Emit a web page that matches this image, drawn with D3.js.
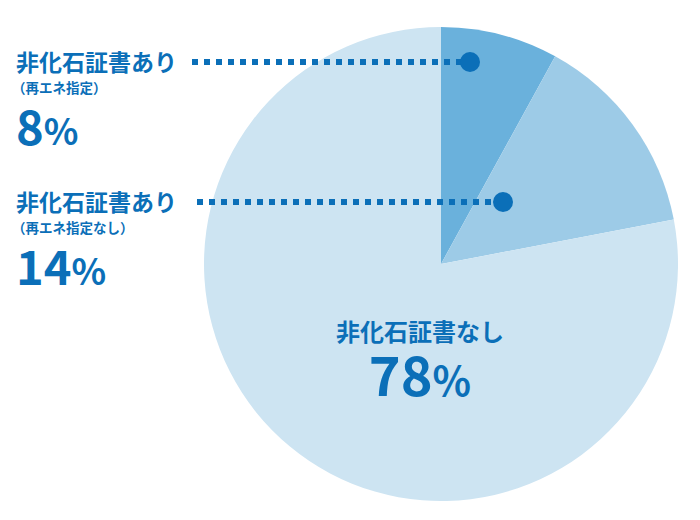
<!DOCTYPE html>
<html>
<head>
<meta charset="utf-8">
<script src="https://cdn.jsdelivr.net/npm/d3@7/dist/d3.min.js"></script>
<style>
  html, body { margin: 0; padding: 0; background: #fff; }
  text { font-family: "Noto Sans CJK JP", "Noto Sans", sans-serif; fill: #0b6fb8; font-weight: 700; }
</style>
</head>
<body>
<svg id="chart" width="700" height="520"></svg>
<script>
  var labels = ['非化石証書あり（再エネ指定）', '非化石証書あり（再エネ指定なし）', '非化石証書なし']
  var values = [8, 14, 78]
  var colors = ['#6ab1dc', '#9dcbe7', '#cde4f2']

  var svg = d3.select('#chart')
  var cx = 441, cy = 264, r = 237

  var pie = d3.pie().sort(null)(values)
  var arc = d3.arc().innerRadius(0).outerRadius(r)

  var g = svg.append('g').attr('transform', 'translate(' + cx + ',' + cy + ')')
  g.selectAll('path').data(pie).enter().append('path')
    .attr('d', arc)
    .attr('fill', function(d, i) { return colors[i] })

  // callouts for the two small slices
  var callouts = [
    {title: '非化石証書あり', sub: '（再エネ指定）', y: 62, lineX: 192, dotX: 470},
    {title: '非化石証書あり', sub: '（再エネ指定なし）', y: 202, lineX: 197, dotX: 503}
  ]
  callouts.forEach(function(c, i) {
    svg.append('line')
      .attr('x1', c.lineX).attr('x2', c.dotX).attr('y1', c.y).attr('y2', c.y)
      .attr('stroke', '#0b6fb8').attr('stroke-width', 6)
      .attr('stroke-dasharray', '6,6')
    svg.append('circle').attr('cx', c.dotX).attr('cy', c.y).attr('r', 10).attr('fill', '#0b6fb8')
    svg.append('text').attr('x', 16).attr('y', c.y + 9).attr('font-size', 23).text(c.title)
    svg.append('text').attr('x', 12).attr('y', c.y + 31).attr('font-size', 13.5).text(c.sub)
    var t = svg.append('text').attr('x', 16).attr('y', c.y + 83).attr('font-size', 47)
    t.append('tspan').text(values[i])
    t.append('tspan').attr('font-size', 36).text('%')
  })

  svg.append('text').attr('x', 420).attr('y', 341).attr('font-size', 24)
    .attr('text-anchor', 'middle').text('非化石証書なし')
  var t3 = svg.append('text').attr('x', 420).attr('y', 396).attr('font-size', 54)
    .attr('text-anchor', 'middle')
  t3.append('tspan').text(values[2])
  t3.append('tspan').attr('font-size', 40).text('%')
</script>
</body>
</html>
